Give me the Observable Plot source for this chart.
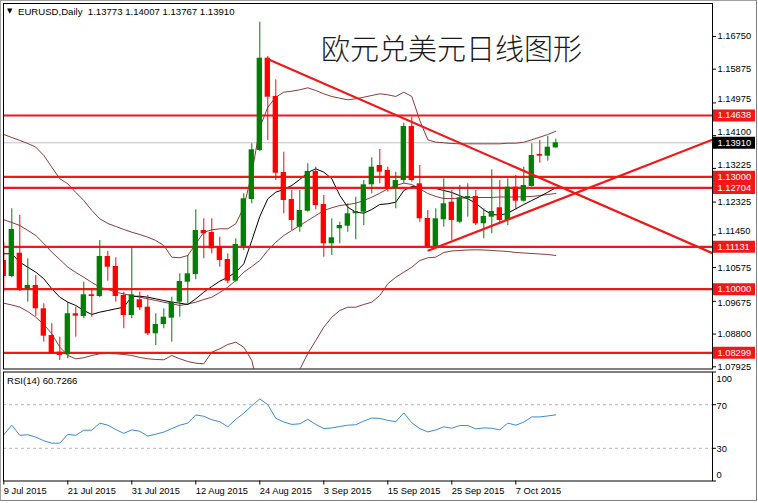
<!DOCTYPE html>
<html><head><meta charset="utf-8">
<script src="https://cdn.jsdelivr.net/npm/d3@7"></script>
<script src="https://cdn.jsdelivr.net/npm/@observablehq/plot@0.6"></script>
<style>
html,body{margin:0;padding:0;background:#fff;}
#wrap{position:relative;width:758px;height:503px;overflow:hidden;background:#fff;font-family:"Liberation Sans",Arial,sans-serif;}
.txt{position:absolute;white-space:nowrap;color:#000;}
</style></head><body><div id="wrap"></div>
<script>
// ---- data (EURUSD daily, bar index 0 = 9 Jul 2015) ----
const open = [1.10765,1.10338,1.10960,1.10010,1.10098,1.09475,1.08762,1.08316,1.08247,1.09342,1.09270,1.09849,1.09804,1.10872,1.10605,1.09831,1.09296,1.09716,1.09518,1.08808,1.09056,1.09224,1.09652,1.10186,1.10392,1.11567,1.11513,1.11139,1.10792,1.10213,1.11139,1.12395,1.13704,1.16169,1.15146,1.13116,1.12395,1.11655,1.12082,1.13143,1.12261,1.11212,1.11612,1.11682,1.12013,1.12056,1.12787,1.13303,1.13169,1.12681,1.12902,1.14345,1.12814,1.11887,1.11139,1.11853,1.12323,1.11788,1.12421,1.12475,1.11746,1.11922,1.12173,1.11834,1.12723,1.12349,1.12742,1.13597,1.13551,1.13773];
const high = [1.11254,1.12146,1.11967,1.10811,1.10365,1.09609,1.09075,1.08717,1.09652,1.09518,1.10186,1.10010,1.11300,1.11006,1.10838,1.09919,1.11121,1.09919,1.09831,1.09342,1.09475,1.09785,1.10410,1.10899,1.12120,1.11879,1.11879,1.11388,1.10944,1.11345,1.12547,1.13883,1.17130,1.16214,1.15592,1.13658,1.12635,1.12635,1.13348,1.13258,1.12502,1.11879,1.11788,1.12280,1.12456,1.12902,1.13509,1.13730,1.13258,1.13124,1.14433,1.14593,1.13303,1.12101,1.12146,1.12948,1.12635,1.12769,1.12814,1.12635,1.12146,1.13188,1.12902,1.12948,1.13036,1.13258,1.13883,1.13971,1.14077,1.14007];
const low = [1.09919,1.10303,1.09937,1.09652,1.09270,1.08583,1.08255,1.08094,1.08140,1.08717,1.09208,1.09251,1.09777,1.10213,1.09652,1.08941,1.09208,1.09430,1.08762,1.08495,1.08941,1.08583,1.09251,1.09609,1.10250,1.10811,1.10944,1.10586,1.10143,1.10186,1.11033,1.12280,1.13677,1.13971,1.12902,1.12013,1.11567,1.11521,1.12056,1.12120,1.10854,1.10899,1.11212,1.11521,1.11318,1.11700,1.12547,1.12814,1.12590,1.12146,1.12830,1.12857,1.11788,1.11078,1.11121,1.11655,1.11300,1.11746,1.11922,1.11700,1.11345,1.11479,1.11746,1.11700,1.12101,1.12323,1.12723,1.13364,1.13418,1.13767];
const close = [1.10338,1.11593,1.09964,1.10098,1.09475,1.08744,1.08273,1.08228,1.09342,1.09278,1.09849,1.09804,1.10872,1.10586,1.09804,1.09296,1.09849,1.09502,1.08808,1.09056,1.09251,1.09652,1.10205,1.10410,1.11567,1.11479,1.11078,1.10765,1.10213,1.11193,1.12413,1.13722,1.16169,1.15127,1.13097,1.12368,1.11834,1.12101,1.13143,1.12234,1.11212,1.11372,1.11700,1.12013,1.12074,1.12787,1.13258,1.13124,1.12681,1.12902,1.14345,1.12902,1.11879,1.11126,1.11879,1.12280,1.11834,1.12440,1.12475,1.11746,1.11941,1.12074,1.11834,1.12723,1.12349,1.12769,1.13570,1.13551,1.13792,1.13910];
// Bollinger bands (upper / middle / lower) and black moving average
const bbUpper = [1.14131,1.14051,1.13971,1.13891,1.13792,1.13570,1.13257,1.12948,1.12814,1.12582,1.12368,1.12101,1.11879,1.11754,1.11674,1.11593,1.11521,1.11460,1.11388,1.11300,1.11166,1.10854,1.10838,1.10899,1.11211,1.11521,1.11585,1.11612,1.11612,1.11746,1.12189,1.13081,1.14318,1.14860,1.15127,1.15261,1.15287,1.15325,1.15378,1.15306,1.15218,1.15146,1.15100,1.15058,1.15084,1.15127,1.15173,1.15218,1.15191,1.15146,1.15261,1.15146,1.14505,1.13989,1.13925,1.13909,1.13890,1.13882,1.13882,1.13882,1.13882,1.13882,1.13882,1.13898,1.13898,1.13925,1.13989,1.14059,1.14131,1.14219];
const bbMiddle = [1.11853,1.11780,1.11700,1.11567,1.11433,1.11220,1.10987,1.10792,1.10587,1.10445,1.10319,1.10178,1.10052,1.09991,1.09919,1.09871,1.09830,1.09785,1.09742,1.09697,1.09652,1.09609,1.09564,1.09604,1.09652,1.09724,1.09785,1.09911,1.10052,1.10231,1.10453,1.10605,1.10765,1.11033,1.11254,1.11433,1.11567,1.11700,1.11834,1.11967,1.12101,1.12173,1.12234,1.12261,1.12296,1.12368,1.12456,1.12563,1.12681,1.12769,1.12830,1.12796,1.12681,1.12555,1.12475,1.12421,1.12421,1.12430,1.12440,1.12448,1.12448,1.12448,1.12462,1.12462,1.12462,1.12467,1.12475,1.12502,1.12528,1.12555];
const bbLower = [1.09625,1.09577,1.09518,1.09403,1.09251,1.09056,1.08807,1.08450,1.08228,1.08140,1.08167,1.08228,1.08273,1.08281,1.08273,1.08255,1.08228,1.08175,1.08140,1.08121,1.08113,1.08228,1.08140,1.08067,1.08022,1.08006,1.08316,1.08407,1.08522,1.08583,1.08450,1.08094,1.07160,1.07160,1.07346,1.07560,1.07720,1.07854,1.08281,1.08629,1.08984,1.09251,1.09430,1.09518,1.09518,1.09590,1.09652,1.09831,1.10143,1.10319,1.10453,1.10586,1.10765,1.10838,1.10854,1.10979,1.11019,1.11033,1.11046,1.11051,1.11046,1.11033,1.11019,1.11006,1.10979,1.10966,1.10952,1.10939,1.10926,1.10899];
const maLine = [1.10944,1.10944,1.10720,1.10586,1.10453,1.10277,1.10009,1.09785,1.09652,1.09564,1.09430,1.09323,1.09385,1.09430,1.09475,1.09518,1.09804,1.09812,1.09785,1.09742,1.09697,1.09652,1.09625,1.09590,1.09742,1.09919,1.10071,1.10213,1.10319,1.10453,1.10677,1.11300,1.11941,1.12413,1.12590,1.12662,1.12769,1.12929,1.13116,1.13215,1.13124,1.12948,1.12502,1.12189,1.12056,1.12029,1.12128,1.12261,1.12280,1.12323,1.12635,1.12742,1.12723,1.12707,1.12688,1.12635,1.12582,1.12494,1.12413,1.12296,1.12120,1.11994,1.11975,1.12029,1.12146,1.12261,1.12368,1.12475,1.12590,1.12707];
const rsi = [42.5,51.2,41.9,42.5,40.3,36.9,34.7,34.7,42.8,41.9,46.6,46.6,53.1,51.2,47.2,43.7,46.9,45.6,41.2,43.0,44.9,48.1,51.2,53.1,60.6,59.4,56.2,54.4,49.7,56.6,62.2,69.1,75.3,70.0,57.5,54.1,51.9,52.5,56.6,51.9,48.1,48.7,50.0,51.2,51.6,55.0,57.8,57.4,55.6,54.4,62.5,53.4,48.1,45.0,46.9,49.7,48.4,50.9,50.9,47.8,48.7,48.4,46.9,53.1,51.2,54.0,58.8,58.8,59.7,60.7];
const levels = [1.14638,1.13000,1.12704,1.11131,1.10000,1.08299];
const bid = 1.13910;
const priceTicks = [1.16750,1.15875,1.14975,1.14100,1.13225,1.12325,1.11450,1.10575,1.09675,1.08800,1.07925];
const rsiTicks = [100,70,30,0];
const rsiLevels = [70,30];
const xTickIdx = [0,8,16,24,32,40,48,56,64];
const xTickLabels = ["9 Jul 2015","21 Jul 2015","31 Jul 2015","12 Aug 2015","24 Aug 2015","3 Sep 2015","15 Sep 2015","25 Sep 2015","7 Oct 2015"];
const trendDown = [{i:32.9,p:1.16153},{i:88.59,p:1.10958}];
const trendUp = [{i:53.09,p:1.11033},{i:88.59,p:1.13991}];
const headerText = "EURUSD,Daily  1.13773 1.14007 1.13767 1.13910";
const rsiText = "RSI(14) 60.7266";
const titleText = "欧元兑美元日线图形";

// ---- styles ----
const RED = "#f01818", CRED = "#ff0000", GREEN = "#008000", BROWN = "#8b3a3a", BLUE = "#3a8ad4";
const FONT = "'Liberation Sans', Arial, sans-serif";
const xDomain = [-0.0375, 88.5875];
const yDomain = [1.07867, 1.17630];
const idx = d3.range(close.length);
const bars = idx.map(i => ({i, o: open[i], h: high[i], l: low[i], c: close[i]}));
const upBars = bars.filter(d => d.c >= d.o), dnBars = bars.filter(d => d.c < d.o);
const baseStyle = (left, top) => ({position: "absolute", left: left + "px", top: top + "px", background: "none", overflow: "visible", fontFamily: FONT, fontSize: "9.3px", color: "#000", maxWidth: "none"});
const wrap = document.getElementById("wrap");

// tick labels that sit just above / just below a boxed level are nudged so they stay readable
const boxed = levels.concat([bid]);
const nearAbove = t => boxed.some(b => t > b && t - b < 0.0035);
const nearBelow = t => boxed.some(b => t < b && b - t < 0.0035);
const tickText = (data, dy) => Plot.text(data, {y: d => d, text: d => d.toFixed(5), frameAnchor: "right", textAnchor: "start", dx: 5, dy, fill: "#000"});

const lineOf = (arr, stroke) => Plot.line(idx, {x: i => i, y: i => arr[i], stroke, strokeWidth: 1, clip: true});

const main = Plot.plot({
  width: 758, height: 369, marginLeft: 3, marginRight: 46, marginTop: 3, marginBottom: 0.5,
  x: {domain: xDomain, axis: null},
  y: {domain: yDomain, axis: null},
  style: baseStyle(0, 0),
  marks: [
    Plot.ruleY([bid], {stroke: "#c0c0c0", strokeWidth: 1}),
    lineOf(bbUpper, BROWN), lineOf(bbMiddle, BROWN), lineOf(bbLower, BROWN),
    lineOf(maLine, "#000"),
    Plot.ruleY(levels, {stroke: RED, strokeWidth: 2.2}),
    Plot.ruleX(upBars, {x: "i", y1: "l", y2: "h", stroke: GREEN, clip: true}),
    Plot.ruleX(dnBars, {x: "i", y1: "l", y2: "h", stroke: CRED, clip: true}),
    Plot.rect(upBars, {x1: d => d.i - 0.33, x2: d => d.i + 0.33, y1: "o", y2: "c", fill: GREEN, clip: true}),
    Plot.rect(dnBars, {x1: d => d.i - 0.33, x2: d => d.i + 0.33, y1: "o", y2: "c", fill: CRED, clip: true}),
    Plot.line(trendDown, {x: "i", y: "p", stroke: RED, strokeWidth: 2.2, clip: true}),
    Plot.line(trendUp, {x: "i", y: "p", stroke: RED, strokeWidth: 2.2, clip: true}),
    Plot.frame({stroke: "#000"}),
    Plot.axisY({anchor: "right", ticks: priceTicks, tickSize: 3, tickFormat: () => ""}),
    tickText(priceTicks.filter(t => !nearAbove(t) && !nearBelow(t)), 0),
    tickText(priceTicks.filter(nearAbove), -3.5),
    tickText(priceTicks.filter(nearBelow), 1.5)
  ]
});
wrap.appendChild(main);

const boxes = Plot.plot({
  width: 46, height: 369, marginLeft: 1, marginRight: 3, marginTop: 3, marginBottom: 0.5,
  y: {domain: yDomain, axis: null},
  style: baseStyle(712, 0),
  marks: [
    Plot.ruleY(levels, {stroke: RED, strokeWidth: 12}),
    Plot.ruleY([bid], {stroke: "#000", strokeWidth: 12}),
    Plot.text(levels, {y: d => d, text: d => d.toFixed(5), frameAnchor: "left", textAnchor: "start", dx: 4, fill: "#fff"}),
    Plot.text([bid], {y: d => d, text: d => d.toFixed(5), frameAnchor: "left", textAnchor: "start", dx: 4, fill: "#fff"})
  ]
});
wrap.appendChild(boxes);

const rsiPlot = Plot.plot({
  width: 758, height: 134, marginLeft: 3, marginRight: 46, marginTop: 2.5, marginBottom: 22.5,
  x: {domain: xDomain, axis: null},
  y: {domain: [0, 100], axis: null},
  style: baseStyle(0, 369),
  marks: [
    Plot.ruleY(rsiLevels, {stroke: "#b4b4b4", strokeDasharray: "3,3"}),
    Plot.line(idx, {x: i => i, y: i => rsi[i], stroke: BLUE, strokeWidth: 1}),
    Plot.frame({stroke: "#000"}),
    Plot.axisX({anchor: "bottom", ticks: xTickIdx, tickSize: 4, tickPadding: 2, textAnchor: "start",
      tickFormat: d => xTickLabels[xTickIdx.indexOf(d)], fill: "#000"}),
    Plot.axisY({anchor: "right", ticks: rsiTicks, tickSize: 3, tickFormat: () => ""}),
    Plot.text(rsiTicks.filter(t => t > 0 && t < 100), {y: d => d, text: d => String(d), frameAnchor: "right", textAnchor: "start", dx: 4, dy: 1}),
    Plot.text(rsiTicks.filter(t => t === 100), {y: d => d, text: d => String(d), frameAnchor: "right", textAnchor: "start", dx: 4, dy: 7}),
    Plot.text(rsiTicks.filter(t => t === 0), {y: d => d, text: d => String(d), frameAnchor: "right", textAnchor: "start", dx: 4, dy: -6})
  ]
});
wrap.appendChild(rsiPlot);

function addText(t, css) {
  const d = document.createElement("div");
  d.className = "txt"; d.textContent = t;
  Object.assign(d.style, css);
  wrap.appendChild(d);
}
addText("▼", {left: "7px", top: "8px", fontSize: "7px", fontFamily: "'DejaVu Sans', sans-serif", lineHeight: "7px"});
addText(headerText, {left: "18px", top: "6px", fontSize: "9.6px", lineHeight: "12px", whiteSpace: "pre"});
addText(rsiText, {left: "7px", top: "375px", fontSize: "9.6px", lineHeight: "12px"});
addText(titleText, {left: "321px", top: "30px", fontSize: "29px", lineHeight: "34px", fontFamily: "'Noto Sans CJK SC', sans-serif", fontWeight: "300", color: "#1a1a1a"});
// window edges
const edge = document.createElement("div");
Object.assign(edge.style, {position: "absolute", left: "0px", top: "0px", width: "755px", height: "499px", borderTop: "1px solid #a0a0a0", borderLeft: "1px solid #a0a0a0", borderRight: "1px solid #808080", borderBottom: "1px solid #808080", pointerEvents: "none"});
wrap.appendChild(edge);
</script></body></html>
